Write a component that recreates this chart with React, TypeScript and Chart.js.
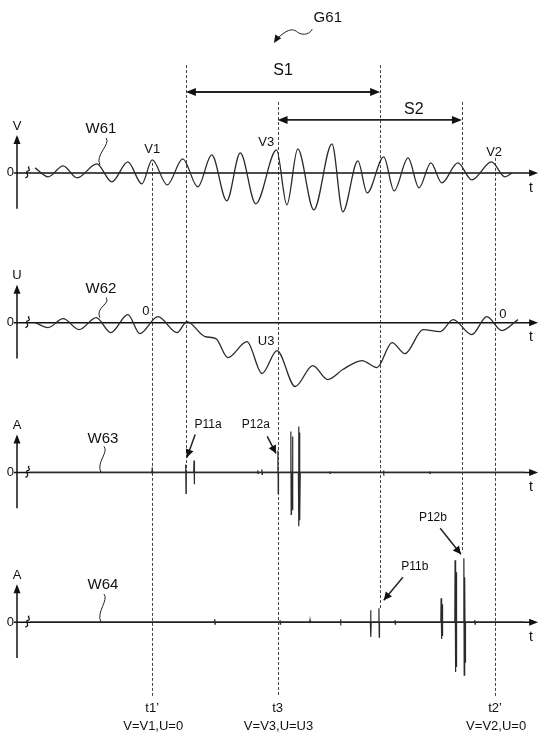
import React, { useEffect, useRef } from "react";
import { Chart, registerables } from "chart.js";
Chart.register(...registerables);

// ---------- data (time axis 0..100, panel amplitudes in arbitrary units) ----------
// W61: voltage V waveform, successive extremes
const w61T = [3.5, 6.0, 8.9, 11.6, 15.4, 18.3, 21.4, 24.1, 26.1, 29.0, 32.0, 34.9, 37.6, 40.5, 43.1, 46.1, 50.1, 52.1, 54.2, 57.3, 60.8, 62.9, 65.8, 67.6, 70.8, 72.8, 75.5, 77.6, 79.9, 82.0, 85.1, 87.8, 91.6, 94.2, 95.6];
const w61V = [5, -4, 7, -5, 9, -9, 11, -11, 13, -12, 14, -14, 18, -28, 20, -31, 23, -32, 24, -37, 29, -39, 12, -20, 16, -18, 15, -15, 10, -10, 10, -7, 11, -4, 0];
// W62: U waveform, successive extremes / shoulders
const w62T = [3.5, 6.0, 8.9, 12.0, 15.3, 18.1, 21.4, 23.7, 27.2, 30.9, 32.8, 36.3, 38.4, 40.7, 44.4, 47.3, 50.2, 53.7, 57.1, 60.0, 62.9, 66.6, 69.5, 72.4, 74.9, 78.4, 81.7, 84.2, 87.8, 90.7, 93.6, 96.7];
const w62U = [0, -5, 4, -7, 5, -10, 8, -11, 6, -10, 1, -14, -16, -35, -19, -51, -28, -64, -43, -57, -47, -38, -45, -20, -31, -7, -9, 3, -12, 6, -8, 3];
// W63: detected pulses (time, positive peak, negative peak)
const w63PulseT = [26.1, 32.6, 34.2, 46.5, 47.3, 50.4, 52.9, 53.2, 54.4, 54.6, 60.4, 70.8, 79.7];
const w63PulseUp = [2, 8, 12, 2, 3, 22, 41, 36, 46, 40, 1, 2, 1];
const w63PulseDown = [-2, -21, -12, -1, -2, -21, -42, -38, -54, -48, -1, -1, -1];
// W64: detected pulses
const w64PulseT = [38.2, 50.8, 56.6, 62.5, 68.3, 69.9, 73.0, 81.9, 82.1, 84.6, 84.8, 86.3, 86.5, 88.4];
const w64PulseUp = [3, 2, 2, 3, 12, 14, 2, 24, 18, 62, 50, 64, 45, 2];
const w64PulseDown = [-2, -2, -1, -1, -15, -15, -2, -17, -14, -50, -45, -53, -40, -2];

// marker times: t1', S1 start, t3, S1 end, S2 end, t2'
const markerT = [26.1, 32.6, 50.3, 70.1, 85.9, 92.3];
const bottomTickLabels = ["t1’", "t3", "t2’"];
const bottomTickT = [26.1, 50.3, 92.3];
const bottomStateLabels = ["V=V1,U=0", "V=V3,U=U3", "V=V2,U=0"];
const spanS1 = [32.6, 70.1];
const spanS2 = [50.3, 85.9];
const axisNames = ["V", "U", "A", "A"];
const waveNames = ["W61", "W62", "W63", "W64"];

// ---------- layout (pixels / panel units, not data) ----------
const panels = ["y1", "y2", "y3", "y4"];
const markerSpan: [string, number, string, number][] = [
  ["y1", 10, "y4", -74],
  ["y1", 108, "y3", 0],
  ["y1", 71, "y4", -74],
  ["y1", 108, "y4", 14],
  ["y1", 71, "y4", 70],
  ["y1", 15, "y4", -74],
];
const waveLabelPos = [
  { t: 16.2, v: 44, st: 17.2, sv: 35, et: 16.0, ev: 8 },
  { t: 16.2, v: 34, st: 17.2, sv: 25, et: 16.0, ev: 5 },
  { t: 16.6, v: 34, st: 16.8, sv: 26, et: 16.2, ev: 0 },
  { t: 16.6, v: 37, st: 16.8, sv: 28, et: 16.2, ev: 0 },
];

function pulseSeries(ts: number[], ups: number[], downs: number[], t0: number, t1: number) {
  const pts: { x: number; y: number }[] = [{ x: t0, y: 0 }];
  ts.forEach((t, i) => {
    pts.push({ x: t - 0.08, y: 0 }, { x: t - 0.03, y: ups[i] }, { x: t + 0.03, y: downs[i] }, { x: t + 0.08, y: 0 });
  });
  pts.push({ x: t1, y: 0 });
  return pts;
}

const FONT = "'Liberation Sans', Arial, sans-serif";

function head(ctx: CanvasRenderingContext2D, x1: number, y1: number, x2: number, y2: number, len = 8, w = 3.5) {
  const a = Math.atan2(y2 - y1, x2 - x1);
  ctx.beginPath();
  ctx.moveTo(x2, y2);
  ctx.lineTo(x2 - len * Math.cos(a) + w * Math.sin(a), y2 - len * Math.sin(a) - w * Math.cos(a));
  ctx.lineTo(x2 - len * Math.cos(a) - w * Math.sin(a), y2 - len * Math.sin(a) + w * Math.cos(a));
  ctx.closePath();
  ctx.fill();
}

function text(ctx: CanvasRenderingContext2D, s: string, x: number, y: number, size: number) {
  ctx.font = `${size}px ${FONT}`;
  ctx.textAlign = "center";
  ctx.textBaseline = "middle";
  ctx.fillText(s, x, y);
}

const figurePlugin = {
  id: "figure",
  beforeDatasetsDraw(chart: any) {
    const ctx: CanvasRenderingContext2D = chart.ctx;
    const X = (t: number) => chart.scales.x.getPixelForValue(t);
    const Y = (id: string, v: number) => chart.scales[id].getPixelForValue(v);
    ctx.save();
    // dashed markers
    ctx.strokeStyle = "#444";
    ctx.lineWidth = 1;
    ctx.setLineDash([3, 2]);
    markerT.forEach((t, i) => {
      const [pa, va, pb, vb] = markerSpan[i];
      const x = Math.round(X(t)) + 0.5;
      ctx.beginPath();
      ctx.moveTo(x, Y(pa, va));
      ctx.lineTo(x, Y(pb, vb));
      ctx.stroke();
    });
    ctx.setLineDash([]);
    // axes
    ctx.strokeStyle = "#111";
    ctx.fillStyle = "#111";
    panels.forEach((id, i) => {
      const z = Y(id, 0);
      const x0 = X(0);
      ctx.lineWidth = 1.5;
      ctx.beginPath();
      ctx.moveTo(x0, Y(id, -36));
      ctx.lineTo(x0, Y(id, 36));
      ctx.stroke();
      head(ctx, x0, Y(id, 0), x0, Y(id, 38), 9, 3.5);
      ctx.beginPath();
      ctx.moveTo(X(-0.6), z);
      ctx.lineTo(X(99.6), z);
      ctx.stroke();
      head(ctx, X(0), z, X(100.6), z, 9, 3.5);
      // break mark
      ctx.lineWidth = 1.2;
      const bx = X(2.0);
      ctx.beginPath();
      ctx.moveTo(bx - 2, z + 5);
      ctx.bezierCurveTo(bx + 4, z + 3, bx - 4, z - 1, bx + 1, z - 2);
      ctx.bezierCurveTo(bx + 4, z - 3, bx - 1, z - 6, bx + 2, z - 6);
      ctx.stroke();
      text(ctx, axisNames[i], x0, Y(id, 47), 13);
      text(ctx, "0", X(-1.3), z, 13);
      text(ctx, "t", X(99.2), Y(id, -15), 14);
    });
    ctx.restore();
  },
  afterDatasetsDraw(chart: any) {
    const ctx: CanvasRenderingContext2D = chart.ctx;
    const X = (t: number) => chart.scales.x.getPixelForValue(t);
    const Y = (id: string, v: number) => chart.scales[id].getPixelForValue(v);
    ctx.save();
    ctx.fillStyle = "#111";
    ctx.strokeStyle = "#222";
    // wave labels with leaders
    waveLabelPos.forEach((p, i) => {
      const id = panels[i];
      text(ctx, waveNames[i], X(p.t), Y(id, p.v), 15);
      const sx = X(p.st), sy = Y(id, p.sv), ex = X(p.et), ey = Y(id, p.ev);
      ctx.lineWidth = 1;
      ctx.beginPath();
      ctx.moveTo(sx, sy);
      ctx.bezierCurveTo(sx + 5, sy + 6, ex - 5, ey - 10, ex, ey);
      ctx.stroke();
    });
    // point labels
    text(ctx, "V1", X(26.1), Y("y1", 23), 13);
    text(ctx, "V3", X(48.1), Y("y1", 31), 13);
    text(ctx, "V2", X(92.1), Y("y1", 20), 13);
    text(ctx, "0", X(24.9), Y("y2", 11), 13);
    text(ctx, "U3", X(48.1), Y("y2", -19), 13);
    text(ctx, "0", X(93.8), Y("y2", 8), 13);
    // pulse labels & arrows
    const callouts = [
      { s: "P11a", id: "y3", t: 36.9, v: 48, a: [34.4, 38, 32.8, 15] },
      { s: "P12a", id: "y3", t: 46.1, v: 48, a: [48.3, 36, 50.0, 19] },
      { s: "P11b", id: "y4", t: 76.8, v: 56, a: [74.5, 45, 70.8, 22] },
      { s: "P12b", id: "y4", t: 80.3, v: 105, a: [81.7, 94, 85.7, 68] },
    ];
    callouts.forEach((c) => {
      text(ctx, c.s, X(c.t), Y(c.id, c.v), 12);
      const x1 = X(c.a[0]), y1 = Y(c.id, c.a[1]), x2 = X(c.a[2]), y2 = Y(c.id, c.a[3]);
      ctx.lineWidth = 1.5;
      ctx.beginPath();
      ctx.moveTo(x1, y1);
      ctx.lineTo(x2, y2);
      ctx.stroke();
      head(ctx, x1, y1, x2, y2, 8, 4);
    });
    // spans S1, S2
    const spans = [
      { s: "S1", r: spanS1, v: 81, lv: 102 },
      { s: "S2", r: spanS2, v: 53, lv: 63 },
    ];
    spans.forEach((sp) => {
      const xa = X(sp.r[0]), xb = X(sp.r[1]), y = Y("y1", sp.v);
      ctx.lineWidth = 1.8;
      ctx.beginPath();
      ctx.moveTo(xa + 4, y);
      ctx.lineTo(xb - 4, y);
      ctx.stroke();
      head(ctx, xb, y, xa, y, 10, 4);
      head(ctx, xa, y, xb, y, 10, 4);
      text(ctx, sp.s, (xa + xb) / 2 + (sp.s === "S2" ? 44 : 0), Y("y1", sp.lv), 16);
    });
    // G61 title with wavy arrow
    text(ctx, "G61", X(60.0), Y("y1", 155), 15);
    const g = [[57.0, 144], [55.4, 139], [53.9, 142], [52.3, 142], [50.1, 134]];
    ctx.lineWidth = 1;
    ctx.beginPath();
    ctx.moveTo(X(g[0][0]), Y("y1", g[0][1]));
    ctx.bezierCurveTo(X(56.3), Y("y1", 137), X(54.6), Y("y1", 138), X(g[2][0]), Y("y1", g[2][1]));
    ctx.bezierCurveTo(X(53.0), Y("y1", 145), X(52.0), Y("y1", 143), X(g[4][0]), Y("y1", g[4][1]));
    ctx.stroke();
    head(ctx, X(g[4][0]), Y("y1", g[4][1]), X(49.6), Y("y1", 130), 8, 3.5);
    // bottom labels
    bottomTickT.forEach((t, i) => {
      text(ctx, bottomTickLabels[i], X(t), Y("y4", -86), 13);
      text(ctx, bottomStateLabels[i], X(t) + 1, Y("y4", -104), 13);
    });
    ctx.restore();
  },
};

export default function App() {
  const ref = useRef<HTMLCanvasElement | null>(null);
  useEffect(() => {
    if (!ref.current) return;
    const line = (data: any[], id: string, smooth: boolean, width: number) => ({
      data,
      yAxisID: id,
      borderColor: "#2a2a2a",
      borderWidth: width,
      pointRadius: 0,
      fill: false,
      clip: false as any,
      tension: smooth ? 0.4 : 0,
      cubicInterpolationMode: smooth ? ("monotone" as const) : ("default" as const),
    });
    const chart = new Chart(ref.current, {
      type: "line",
      data: {
        datasets: [
          line(w61T.map((t, i) => ({ x: t, y: w61V[i] })), "y1", true, 1.3),
          line(w62T.map((t, i) => ({ x: t, y: w62U[i] })), "y2", true, 1.3),
          line(pulseSeries(w63PulseT, w63PulseUp, w63PulseDown, 2.5, 98), "y3", false, 1.2),
          line(pulseSeries(w64PulseT, w64PulseUp, w64PulseDown, 2.5, 98), "y4", false, 1.2),
        ],
      },
      options: {
        responsive: false,
        animation: false,
        events: [],
        layout: { padding: { left: 17, right: 4, top: 98, bottom: 43 } },
        plugins: { legend: { display: false }, tooltip: { enabled: false } },
        scales: {
          x: { type: "linear", min: 0, max: 100, display: false },
          y1: { type: "linear", min: -75, max: 75, display: false, position: "left", stack: "fig", stackWeight: 1, weight: 4 },
          y2: { type: "linear", min: -75, max: 75, display: false, position: "left", stack: "fig", stackWeight: 1, weight: 3 },
          y3: { type: "linear", min: -75, max: 75, display: false, position: "left", stack: "fig", stackWeight: 1, weight: 2 },
          y4: { type: "linear", min: -75, max: 75, display: false, position: "left", stack: "fig", stackWeight: 1, weight: 1 },
        },
      } as any,
      plugins: [figurePlugin as any],
    });
    return () => chart.destroy();
  }, []);
  return (
    <div style={{ position: "absolute", left: 0, top: 0, width: 539, height: 740, background: "#fff" }}>
      <canvas ref={ref} width={539} height={740} style={{ display: "block" }} />
    </div>
  );
}
